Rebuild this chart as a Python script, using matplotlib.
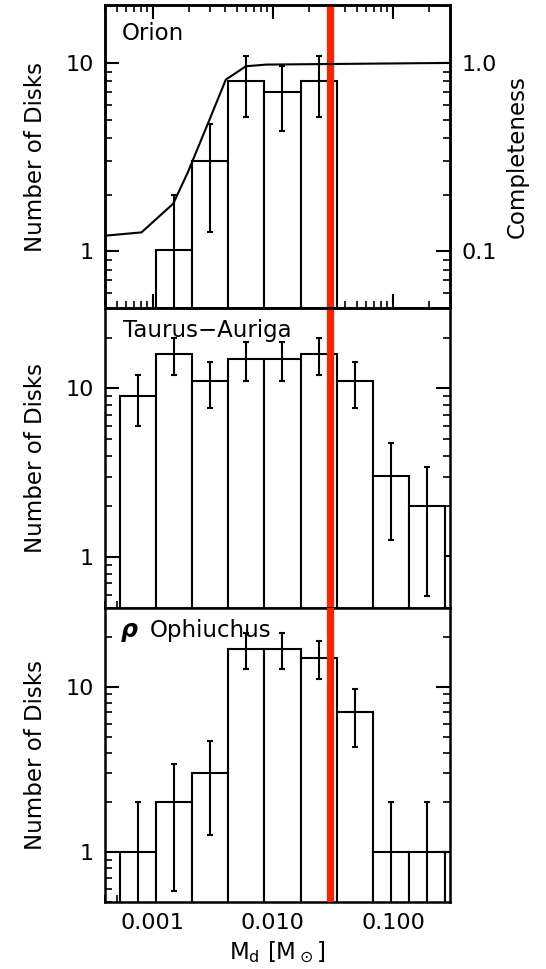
import numpy as np
import matplotlib.pyplot as plt

plt.rcParams['font.family'] = 'DejaVu Sans'
plt.rcParams['mathtext.fontset'] = 'dejavusans'

# bin edges in disk mass (factor-of-two bins)
bordes = [0.00053, 0.00106, 0.00212, 0.00424, 0.00848, 0.0170,
          0.0339, 0.0678, 0.136, 0.271, 0.543]

# number of disks per bin
orion = [0, 1, 3, 8, 7, 8, 0, 0, 0, 0]
tauro = [9, 16, 11, 15, 15, 16, 11, 3, 2, 1]
ofiuco = [1, 2, 3, 17, 17, 15, 7, 1, 1, 1]

# completeness curve for Orion
masa_comp = [0.0004, 0.000805, 0.00148, 0.00196, 0.00299, 0.00406, 0.00596, 0.00886, 0.3]
completitud = [0.121, 0.126, 0.179, 0.263, 0.506, 0.816, 0.96, 0.98, 1.0]

m_corte = 0.03

nombres = ["Orion", "Taurus\u2212Auriga", "Ophiuchus"]
conteos = [orion, tauro, ofiuco]
ylims = [(0.5, 20.3), (0.5, 30), (0.5, 30)]

fs_txt = 16.5
fs_tick = 16

fig = plt.figure(figsize=(5.46, 9.69), dpi=100)
x0, ancho = 105 / 546, 345 / 546
paneles = [(5, 308), (308, 608), (608, 902)]

bordes = np.array(bordes)
izq, der = bordes[:-1], bordes[1:]
centros = np.sqrt(izq * der)

axes = []
for i, (arriba, abajo) in enumerate(paneles):
    ax = fig.add_axes([x0, 1 - abajo / 969, ancho, (abajo - arriba) / 969])
    axes.append(ax)
    n = np.array(conteos[i], dtype=float)
    ok = n > 0
    ax.bar(izq[ok], n[ok], width=(der - izq)[ok], align='edge', bottom=0.01,
           color='white', edgecolor='black', linewidth=1.5, zorder=2)
    err = np.sqrt(n[ok])
    bajo = np.minimum(err, n[ok] - 1e-3)
    ax.errorbar(centros[ok], n[ok], yerr=[bajo, err], fmt='none', ecolor='black',
                elinewidth=1.5, capsize=2.3, capthick=1.5, zorder=3)
    ax.axvline(m_corte, color='#FF2200', linewidth=5.2, zorder=5)

    ax.set_xscale('log')
    ax.set_yscale('log')
    ax.set_xlim(0.0004, 0.2985)
    ax.set_ylim(*ylims[i])
    ax.set_yticks([1, 10], ['1', '10'])
    ax.tick_params(which='both', direction='in', top=(i == 0), right=True,
                   labelsize=fs_tick)
    ax.tick_params(which='major', length=10, width=1.5, pad=8)
    ax.tick_params(which='minor', length=5, width=1.2)
    ax.yaxis.set_minor_formatter(plt.NullFormatter())
    for s in ax.spines.values():
        s.set_linewidth(1.8)
    ax.text(-0.2, 0.5, "Number of Disks", transform=ax.transAxes,
            rotation=90, ha='center', va='center', fontsize=fs_txt)
    if i < 2:
        ax.tick_params(labelbottom=False)
    ax.xaxis.set_minor_formatter(plt.NullFormatter())

axes[0].text(0.049, 0.884, "Orion", transform=axes[0].transAxes, fontsize=fs_txt)
axes[1].text(0.052, 0.904, nombres[1], transform=axes[1].transAxes, fontsize=fs_txt)
axes[2].text(0.045, 0.901, "\u03c1", transform=axes[2].transAxes, fontsize=17,
             fontweight='bold', style='italic')
axes[2].text(0.13, 0.901, nombres[2], transform=axes[2].transAxes, fontsize=fs_txt)

# completeness on a second axis
ax2 = axes[0].twinx()
ax2.set_yscale('log')
ax2.set_ylim(0.05, 2.03)
ax2.plot(masa_comp, completitud, color='black', linewidth=1.5, zorder=4)
ax2.set_yticks([0.1, 1.0], ['0.1', '1.0'])
ax2.yaxis.set_minor_formatter(plt.NullFormatter())
ax2.tick_params(which='both', direction='in', labelsize=fs_tick)
ax2.tick_params(which='major', length=10, width=1.5, pad=8)
ax2.tick_params(which='minor', length=5, width=1.2)
ax2.set_ylabel("Completeness", fontsize=fs_txt, labelpad=7)
for s in ax2.spines.values():
    s.set_linewidth(1.8)

axes[2].set_xticks([0.001, 0.01, 0.1], ['0.001', '0.010', '0.100'])
axes[2].set_xlabel(r"M$_\mathrm{d}$ [M$_\odot$]", fontsize=fs_txt, labelpad=5)

fig.savefig("out.png", dpi=100)
